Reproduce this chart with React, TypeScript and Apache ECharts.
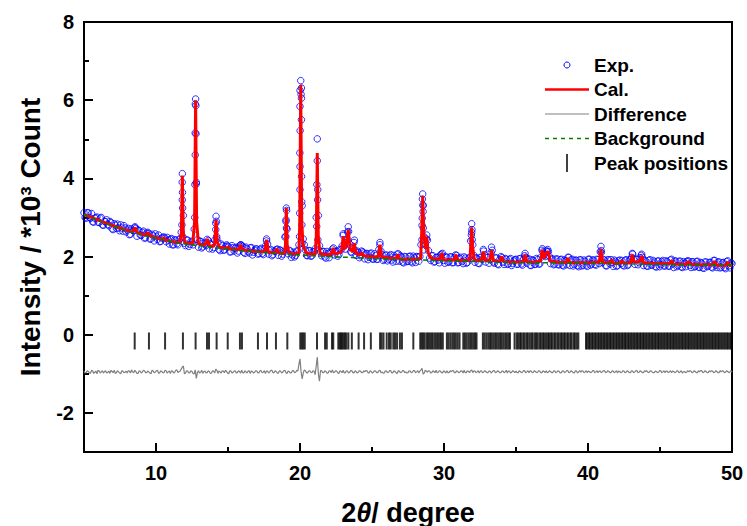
import React, { useEffect, useRef } from 'react';
import * as echarts from 'echarts';

const xTicks = [10, 20, 30, 40, 50];
const xMinorTicks = [15, 25, 35, 45];
const yTicks = [-2, 0, 2, 4, 6, 8];
const yMinorTicks = [-1, 1, 3, 5, 7];

// background (x, y)
const bgX = [5, 6, 7, 8, 9, 10, 11, 12, 13, 14, 15, 16, 17, 18, 19, 20, 22, 24, 26, 28, 30, 32, 34, 36, 38, 40, 42, 44, 46, 48, 50];
const bgY = [3.07, 2.92, 2.78, 2.66, 2.56, 2.47, 2.39, 2.32, 2.28, 2.23, 2.19, 2.15, 2.12, 2.09, 2.065, 2.04, 2.0, 1.97, 1.935, 1.915, 1.895, 1.875, 1.855, 1.845, 1.835, 1.825, 1.815, 1.805, 1.795, 1.785, 1.775];

// calculated profile, points
const calc = [
  [5.0, 3.07], [5.5, 3.0], [6.0, 2.93], [6.5, 2.86], [7.0, 2.79], [7.5, 2.73], [8.0, 2.67], [8.38, 2.63], [8.54, 2.74], [8.7, 2.61],
  [9.0, 2.57], [9.28, 2.55], [9.42, 2.62], [9.56, 2.54], [10.0, 2.48], [10.44, 2.44], [10.56, 2.48], [10.68, 2.42], [11.0, 2.4], [11.5, 2.36],
  [11.65, 2.36], [11.76, 2.6], [11.83, 4.07], [11.9, 2.6], [12.0, 2.35], [12.55, 2.33], [12.68, 2.9], [12.75, 6.0], [12.82, 2.9], [12.95, 2.32],
  [13.4, 2.29], [13.57, 2.45], [13.72, 2.27], [14.0, 2.26], [14.08, 2.36], [14.17, 2.94], [14.26, 2.36], [14.4, 2.24], [14.88, 2.21], [15.0, 2.25],
  [15.12, 2.2], [15.75, 2.18], [15.88, 2.3], [16.0, 2.17], [16.5, 2.15], [17.0, 2.13], [17.55, 2.12], [17.68, 2.43], [17.8, 2.11], [18.28, 2.1],
  [18.4, 2.2], [18.52, 2.09], [18.92, 2.08], [18.99, 2.3], [19.05, 3.24], [19.11, 2.3], [19.25, 2.07], [19.6, 2.07], [19.92, 2.08], [19.98, 2.8],
  [20.05, 6.39], [20.12, 2.9], [20.2, 2.35], [20.3, 2.2], [20.45, 2.08], [21.05, 2.06], [21.13, 2.5], [21.2, 4.65], [21.27, 2.5], [21.4, 2.07],
  [21.8, 2.05], [22.18, 2.06], [22.3, 2.22], [22.42, 2.07], [22.6, 2.08], [22.88, 2.12], [23.0, 2.52], [23.1, 2.2], [23.2, 2.25], [23.35, 2.69],
  [23.48, 2.2], [23.65, 2.12], [23.77, 2.34], [23.9, 2.08], [24.15, 2.04], [24.28, 2.1], [24.42, 2.02], [24.9, 2.0], [25.42, 1.99], [25.55, 2.3],
  [25.68, 1.98], [26.2, 1.96], [26.68, 1.95], [26.8, 2.05], [26.92, 1.94], [27.5, 1.93], [28.0, 1.93], [28.38, 1.95], [28.45, 2.6], [28.52, 3.55],
  [28.6, 2.6], [28.72, 2.2], [28.8, 2.5], [28.9, 2.1], [29.1, 1.95], [29.72, 1.93], [29.84, 2.09], [29.96, 1.92], [30.3, 1.91], [30.72, 1.91],
  [30.83, 2.05], [30.95, 1.9], [31.5, 1.9], [31.8, 1.92], [31.86, 2.3], [31.92, 2.75], [31.98, 2.3], [32.1, 1.91], [32.6, 1.9], [32.73, 2.13],
  [32.86, 1.9], [33.17, 1.9], [33.3, 2.16], [33.43, 1.89], [33.88, 1.88], [34.0, 2.0], [34.12, 1.87], [34.6, 1.86], [35.1, 1.86], [35.5, 1.86],
  [35.63, 2.05], [35.76, 1.86], [36.3, 1.86], [36.7, 1.88], [36.83, 2.17], [36.96, 1.95], [37.1, 2.1], [37.25, 2.13], [37.38, 1.88], [38.0, 1.85],
  [38.48, 1.85], [38.6, 1.96], [38.72, 1.84], [39.3, 1.84], [39.8, 1.84], [40.3, 1.85], [40.78, 1.86], [40.9, 2.19], [41.02, 1.85], [41.52, 1.84],
  [41.64, 1.92], [41.76, 1.83], [42.22, 1.83], [42.34, 1.9], [42.46, 1.83], [42.96, 1.84], [43.08, 2.05], [43.2, 1.86], [43.45, 1.86], [43.6, 1.88],
  [43.73, 2.02], [43.86, 1.84], [44.4, 1.83], [45.0, 1.82], [45.68, 1.82], [45.8, 1.9], [45.92, 1.81], [46.5, 1.8], [46.85, 1.8], [46.97, 1.88],
  [47.09, 1.8], [47.8, 1.79], [48.68, 1.79], [48.8, 1.88], [48.92, 1.78], [49.3, 1.78], [49.58, 1.78], [49.7, 1.86], [49.82, 1.77], [50.0, 1.77],
];

// observed points on a 0.15 degree grid starting at 5
const expStart = 5;
const expStep = 0.15;
const expY = [
  3.12, 2.98, 3.12, 2.98, 2.89, 2.98, 3.01, 2.87, 3.00, 2.80,
  2.89, 2.82, 2.90, 2.71, 2.84, 2.72, 2.73, 2.81, 2.65, 2.73,
  2.68, 2.56, 2.71, 2.66, 2.72, 2.68, 2.55, 2.62, 2.47, 2.60,
  2.59, 2.45, 2.53, 2.58, 2.44, 2.38, 2.47, 2.50, 2.38, 2.42,
  2.44, 2.30, 2.43, 2.33, 2.43, 2.62, 3.05, 2.28, 2.42, 2.31,
  2.37, 2.70, 3.90, 2.24, 2.39, 2.25, 2.32, 2.44, 2.20, 2.32,
  2.23, 2.85, 2.35, 2.15, 2.28, 2.17, 2.30, 2.25, 2.12, 2.23,
  2.21, 2.09, 2.27, 2.28, 2.11, 2.24, 2.12, 2.22, 2.04, 2.16,
  2.19, 2.08, 2.21, 2.05, 2.27, 2.32, 2.15, 2.02, 2.15, 2.18,
  2.03, 2.16, 2.06, 2.50, 2.70, 2.16, 1.98, 2.11, 2.03, 2.14,
  4.30, 3.30, 2.30, 2.03, 2.15, 2.01, 2.13, 2.20, 4.45, 2.28,
  2.02, 2.13, 1.96, 2.08, 2.11, 2.19, 2.04, 2.14, 2.05, 2.17,
  2.54, 2.19, 2.63, 2.32, 2.10, 2.36, 2.03, 2.10, 2.02, 2.12,
  1.94, 2.08, 1.98, 2.09, 1.93, 2.02, 1.93, 2.30, 2.05, 1.93,
  2.04, 1.93, 2.05, 1.86, 1.97, 2.06, 1.88, 1.99, 1.84, 1.99,
  1.88, 2.01, 1.84, 1.97, 2.00, 1.88, 2.30, 3.30, 2.30, 2.42,
  1.96, 2.02, 1.86, 1.98, 1.91, 2.04, 2.08, 1.83, 1.98, 1.87,
  1.99, 1.85, 2.04, 1.84, 1.95, 1.87, 1.99, 1.83, 1.95, 2.40,
  2.30, 1.85, 1.95, 1.82, 1.98, 2.14, 1.86, 1.98, 1.92, 2.16,
  1.83, 1.96, 1.79, 2.00, 1.86, 1.95, 1.80, 1.92, 1.77, 1.89,
  1.93, 1.81, 1.95, 1.78, 2.02, 1.83, 1.94, 1.77, 1.90, 1.80,
  1.92, 1.81, 2.16, 2.04, 2.15, 2.13, 1.82, 1.94, 1.81, 1.94,
  1.79, 1.93, 1.76, 1.89, 1.98, 1.77, 1.93, 1.80, 1.90, 1.74,
  1.91, 1.78, 1.88, 1.75, 1.93, 1.81, 1.91, 1.78, 1.92, 2.12,
  1.85, 1.91, 1.76, 1.91, 1.92, 1.75, 1.88, 1.77, 1.91, 1.90,
  1.76, 1.92, 1.79, 1.92, 2.06, 1.80, 1.93, 1.84, 2.03, 1.77,
  1.89, 1.75, 1.92, 1.78, 1.86, 1.73, 1.89, 1.79, 1.90, 1.76,
  1.87, 1.75, 1.93, 1.72, 1.88, 1.77, 1.88, 1.72, 1.83, 1.87,
  1.88, 1.72, 1.86, 1.75, 1.88, 1.72, 1.83, 1.70, 1.86, 1.76,
  1.85, 1.71, 1.90, 1.72, 1.86, 1.73, 1.85, 1.69, 1.89, 1.71,
  1.82,
];

// observed points on the interleaved grid starting at 5.075
const expStart2 = 5.075;
const expY2 = [
  3.00, 3.12, 3.00, 3.10, 2.88, 2.99, 2.88, 2.98, 2.81, 2.90,
  2.94, 2.79, 2.87, 2.69, 2.80, 2.83, 2.66, 2.73, 2.79, 2.63,
  2.72, 2.57, 2.67, 2.74, 2.52, 2.66, 2.54, 2.65, 2.48, 2.62,
  2.45, 2.57, 2.40, 2.51, 2.55, 2.39, 2.49, 2.47, 2.49, 2.32,
  2.46, 2.30, 2.42, 2.30, 2.46, 3.45, 2.34, 2.42, 2.26, 2.39,
  2.30, 4.60, 2.43, 2.39, 2.22, 2.35, 2.28, 2.41, 2.32, 2.19,
  2.42, 2.45, 2.18, 2.32, 2.16, 2.26, 2.27, 2.12, 2.28, 2.14,
  2.24, 2.14, 2.30, 2.26, 2.08, 2.20, 2.09, 2.23, 2.11, 2.20,
  2.06, 2.18, 2.08, 2.20, 2.40, 2.06, 2.18, 2.05, 2.13, 2.19,
  2.17, 2.01, 2.13, 2.90, 2.07, 2.14, 2.04, 1.99, 2.14, 2.30,
  6.15, 2.45, 2.17, 2.02, 2.15, 2.02, 2.12, 3.00, 3.05, 2.12,
  2.13, 1.99, 2.13, 1.97, 2.10, 2.22, 2.13, 2.01, 2.18, 2.27,
  2.27, 2.36, 2.64, 2.12, 2.21, 2.15, 2.14, 1.97, 2.14, 2.09,
  2.07, 1.92, 2.07, 1.94, 2.07, 1.93, 2.18, 2.14, 1.90, 2.03,
  1.89, 2.02, 1.91, 2.03, 1.88, 2.07, 2.02, 1.86, 2.00, 1.87,
  2.00, 1.87, 2.01, 1.85, 1.99, 2.00, 2.80, 2.50, 2.45, 2.15,
  1.90, 2.02, 1.87, 1.98, 1.84, 2.06, 1.90, 1.99, 1.85, 1.99,
  1.84, 1.98, 2.03, 1.85, 1.98, 1.82, 1.96, 1.85, 1.98, 2.62,
  2.03, 1.97, 1.83, 1.98, 1.93, 2.04, 1.97, 1.83, 2.10, 1.86,
  1.97, 1.81, 1.93, 1.97, 1.80, 1.93, 1.81, 1.95, 1.82, 1.92,
  1.80, 1.94, 1.81, 1.93, 1.98, 1.92, 1.78, 1.92, 1.80, 1.95,
  1.81, 1.98, 2.12, 2.00, 2.12, 2.00, 1.93, 1.79, 1.93, 1.79,
  1.92, 1.78, 1.91, 1.79, 1.98, 1.91, 1.76, 1.91, 1.77, 1.92,
  1.76, 1.91, 1.78, 1.93, 1.78, 1.91, 1.80, 1.93, 1.82, 2.10,
  1.92, 1.77, 1.92, 1.81, 1.85, 1.91, 1.75, 1.89, 1.82, 1.78,
  1.90, 1.77, 1.91, 1.98, 1.92, 1.93, 1.79, 1.97, 1.98, 1.89,
  1.76, 1.90, 1.78, 1.90, 1.75, 1.88, 1.74, 1.87, 1.76, 1.89,
  1.76, 1.91, 1.81, 1.89, 1.74, 1.88, 1.74, 1.87, 1.74, 1.89,
  1.77, 1.87, 1.73, 1.87, 1.73, 1.85, 1.71, 1.86, 1.74, 1.85,
  1.73, 1.90, 1.78, 1.86, 1.71, 1.84, 1.72, 1.87, 1.76, 1.84,
];

// extra observed points on the peak flanks (x, y)
const expPeaks = [
  [8.54, 2.76], [11.83, 4.12], [11.82, 3.9], [11.84, 3.64], [11.85, 3.24], [11.8, 2.81], [11.86, 2.51],
  [12.75, 6.03], [12.73, 5.9], [12.77, 5.86], [12.72, 5.16], [12.78, 5.14], [12.7, 3.84], [12.8, 3.86], [12.69, 3.0],
  [14.17, 3.03], [14.19, 2.9], [14.15, 2.69], [14.21, 2.51], [17.68, 2.45], [15.88, 2.3],
  [19.05, 3.24], [19.07, 3.18], [19.03, 2.94], [19.06, 2.73], [19.02, 2.51],
  [20.05, 6.5], [20.0, 6.25], [20.1, 6.31], [20.0, 5.84], [20.1, 6.05], [20.01, 5.22], [20.1, 5.5], [19.99, 4.65],
  [20.11, 4.05], [20.0, 3.71], [20.12, 3.4], [19.98, 3.11], [20.13, 2.81], [19.97, 2.51], [20.14, 2.34],
  [21.2, 5.01], [21.17, 3.84], [21.23, 3.71], [21.22, 3.45], [21.16, 2.77], [21.24, 2.43],
  [23.0, 2.58], [23.35, 2.76], [23.78, 2.42], [23.25, 2.45], [25.55, 2.36],
  [28.52, 3.6], [28.5, 3.47], [28.54, 3.32], [28.55, 3.15], [28.49, 2.98], [28.56, 2.73], [28.47, 2.43], [28.6, 2.17], [28.8, 2.55],
  [31.92, 2.84], [31.94, 2.69], [31.9, 2.55], [31.96, 2.43],
  [32.73, 2.18], [33.3, 2.24], [35.63, 2.08], [36.83, 2.2], [37.2, 2.18], [40.9, 2.26], [40.92, 2.15], [43.08, 2.08], [43.73, 2.06],
];

// difference curve (offset), on the same two grids
const diffY = [
  -0.93, -0.97, -0.94, -0.99, -0.92, -0.96, -1.0, -0.93, -0.95, -0.98,
  -0.92, -0.96, -0.99, -0.94, -0.91, -0.97, -0.95, -1.0, -0.93, -0.96,
  -0.98, -0.93, -0.9, -0.97, -0.94, -0.99, -0.93, -0.96, -0.92, -0.97,
  -0.95, -1.0, -0.93, -0.96, -0.91, -0.98, -0.94, -0.97, -0.92, -0.95,
  -0.99, -0.93, -0.96, -0.9, -0.94, -0.88, -0.8, -0.98, -0.93, -0.97,
  -0.94, -1.0, -1.12, -0.92, -0.96, -0.99, -0.93, -0.97, -0.94, -0.98,
  -0.93, -0.88, -0.99, -0.95, -0.92, -0.97, -0.94, -1.0, -0.93, -0.96,
  -0.92, -0.97, -0.94, -0.91, -0.98, -0.95, -0.93, -0.99, -0.94, -0.96,
  -0.93, -0.97, -0.92, -0.96, -0.99, -0.93, -0.95, -0.91, -0.97, -0.94,
  -0.98, -0.93, -0.96, -0.91, -0.99, -0.94, -0.97, -0.92, -0.96, -0.93,
  -0.62, -1.13, -0.9, -0.97, -0.93, -0.96, -0.92, -1.02, -0.57, -1.19,
  -0.92, -0.97, -0.94, -0.98, -0.93, -0.9, -0.96, -0.93, -0.99, -0.94,
  -0.91, -0.97, -0.93, -0.96, -0.92, -0.98, -0.94, -0.96, -0.93, -0.97,
  -0.95, -0.92, -0.98, -0.94, -0.96, -0.93, -0.97, -0.91, -0.95, -0.98,
  -0.93, -0.96, -0.92, -0.97, -0.94, -0.99, -0.93, -0.96, -0.92, -0.95,
  -0.97, -0.93, -0.96, -0.92, -0.95, -0.98, -0.9, -1.01, -0.91, -0.96,
  -0.93, -0.97, -0.94, -0.91, -0.96, -0.93, -0.98, -0.94, -0.92, -0.97,
  -0.95, -0.92, -0.97, -0.94, -0.96, -0.93, -0.91, -0.97, -0.94, -0.92,
  -0.97, -0.93, -0.95, -0.98, -0.92, -0.96, -0.94, -0.97, -0.93, -0.95,
  -0.92, -0.96, -0.94, -0.97, -0.93, -0.95, -0.98, -0.93, -0.96, -0.94,
  -0.93, -0.97, -0.94, -0.96, -0.92, -0.95, -0.97, -0.93, -0.96, -0.94,
  -0.96, -0.93, -0.97, -0.94, -0.92, -0.96, -0.94, -0.97, -0.93, -0.95,
  -0.94, -0.97, -0.93, -0.95, -0.92, -0.96, -0.94, -0.98, -0.93, -0.95,
  -0.96, -0.93, -0.95, -0.97, -0.94, -0.96, -0.92, -0.95, -0.97, -0.93,
  -0.95, -0.92, -0.96, -0.94, -0.97, -0.93, -0.95, -0.98, -0.94, -0.96,
  -0.93, -0.96, -0.94, -0.97, -0.93, -0.95, -0.92, -0.96, -0.94, -0.97,
  -0.94, -0.96, -0.93, -0.95, -0.97, -0.94, -0.96, -0.92, -0.95, -0.97,
  -0.93, -0.95, -0.97, -0.94, -0.96, -0.93, -0.95, -0.98, -0.94, -0.96,
  -0.95, -0.93, -0.96, -0.94, -0.97, -0.95, -0.92, -0.96, -0.94, -0.97,
  -0.95, -0.93, -0.96, -0.94, -0.97, -0.95, -0.93, -0.96, -0.94, -0.95,
  -0.96,
];
const diffY2 = [
  -0.98, -0.92, -0.97, -0.91, -0.99, -0.93, -0.91, -0.98, -0.92, -0.94,
  -0.98, -0.93, -0.91, -0.97, -0.99, -0.92, -0.98, -0.92, -0.97, -0.93,
  -0.92, -0.98, -0.95, -0.91, -0.99, -0.93, -0.98, -0.91, -0.97, -0.93,
  -0.98, -0.91, -0.97, -0.92, -0.98, -0.92, -0.97, -0.91, -0.98, -0.93,
  -0.92, -0.98, -0.91, -0.97, -0.93, -0.83, -1.0, -0.92, -0.98, -0.92,
  -0.99, -0.9, -0.97, -0.98, -0.91, -0.94, -0.98, -0.92, -0.99, -0.92,
  -0.98, -0.91, -0.93, -0.98, -0.93, -0.91, -0.98, -0.92, -0.98, -0.93,
  -0.98, -0.92, -0.98, -0.97, -0.92, -0.98, -0.92, -0.93, -0.98, -0.92,
  -0.98, -0.92, -0.97, -0.92, -0.93, -0.98, -0.91, -0.97, -0.92, -0.98,
  -0.92, -0.98, -0.92, -0.97, -0.93, -0.98, -0.92, -0.97, -0.91, -0.75,
  -0.95, -0.98, -0.92, -0.98, -0.92, -0.97, -0.93, -0.8, -1.0, -0.92,
  -0.97, -0.92, -0.98, -0.92, -0.97, -0.97, -0.92, -0.98, -0.92, -0.97,
  -0.98, -0.92, -0.98, -0.92, -0.97, -0.92, -0.98, -0.92, -0.97, -0.92,
  -0.92, -0.97, -0.92, -0.98, -0.92, -0.97, -0.92, -0.97, -0.98, -0.92,
  -0.97, -0.92, -0.98, -0.92, -0.97, -0.92, -0.97, -0.92, -0.97, -0.98,
  -0.92, -0.97, -0.92, -0.97, -0.92, -0.93, -0.86, -0.98, -0.93, -0.92,
  -0.98, -0.92, -0.97, -0.97, -0.92, -0.97, -0.92, -0.98, -0.97, -0.92,
  -0.92, -0.97, -0.92, -0.97, -0.92, -0.98, -0.97, -0.92, -0.97, -0.9,
  -0.92, -0.97, -0.92, -0.93, -0.97, -0.92, -0.97, -0.93, -0.98, -0.92,
  -0.97, -0.92, -0.97, -0.93, -0.97, -0.91, -0.93, -0.98, -0.92, -0.97,
  -0.97, -0.92, -0.97, -0.92, -0.97, -0.92, -0.92, -0.97, -0.92, -0.97,
  -0.92, -0.97, -0.92, -0.97, -0.97, -0.92, -0.97, -0.92, -0.97, -0.92,
  -0.98, -0.92, -0.97, -0.92, -0.97, -0.92, -0.97, -0.92, -0.98, -0.92,
  -0.92, -0.97, -0.92, -0.93, -0.97, -0.92, -0.97, -0.92, -0.93, -0.97,
  -0.92, -0.97, -0.92, -0.97, -0.92, -0.97, -0.92, -0.93, -0.97, -0.92,
  -0.97, -0.92, -0.97, -0.92, -0.97, -0.92, -0.97, -0.92, -0.97, -0.92,
  -0.92, -0.97, -0.92, -0.97, -0.93, -0.97, -0.92, -0.97, -0.92, -0.93,
  -0.97, -0.92, -0.93, -0.97, -0.92, -0.97, -0.92, -0.95, -0.97, -0.92,
  -0.92, -0.97, -0.92, -0.97, -0.92, -0.92, -0.97, -0.92, -0.97, -0.92,
  -0.92, -0.97, -0.92, -0.97, -0.92, -0.92, -0.97, -0.92, -0.97, -0.92,
];

// Bragg peak positions
const peakPos = [
  8.52, 9.51, 10.63, 11.87, 12.75, 13.54, 13.68, 14.21, 14.98, 15.83, 15.97, 17.08, 17.71, 18.33, 19.12,
  20.02, 20.12, 20.22, 20.33, 21.18, 21.74, 21.86, 22.22, 22.31, 22.66, 22.76, 22.84, 22.93, 23.02, 23.12,
  23.22, 23.36, 23.6, 24.07, 24.45, 24.92, 25.56, 25.67, 25.8, 26.02, 26.18, 26.3, 26.48, 26.6, 26.74,
  26.94, 27.08, 27.87, 28.35, 28.45, 28.55, 28.66, 28.8, 28.9, 29.01, 29.12, 29.22, 29.35, 29.46, 29.58,
  29.7, 29.8, 29.92, 30.2, 30.32, 30.45, 30.58, 30.7, 30.82, 30.95, 31.08, 31.34, 31.45, 31.57, 31.7,
  31.82, 31.93, 32.05, 32.16, 32.26, 32.7, 32.82, 32.95, 33.08, 33.2, 33.3, 33.42, 33.55, 33.66, 33.78,
  33.9, 34.0, 34.12, 34.25, 34.36, 34.48, 34.58, 34.9,
  35.05, 35.15, 35.28, 35.37, 35.5, 35.6, 35.73, 35.82, 35.95, 36.07, 36.16, 36.3, 36.4, 36.5, 36.63,
  36.73, 36.86, 36.95, 37.08, 37.2, 37.29, 37.42, 37.51, 37.65, 37.74, 37.87, 37.97, 38.1, 38.19, 38.32,
  38.41, 38.55, 38.64, 38.77, 38.86, 39.0, 39.09, 39.22, 39.33,
  39.86, 39.95, 40.07, 40.16, 40.28, 40.37, 40.49, 40.58, 40.7, 40.79, 40.9, 41.0, 41.11, 41.21, 41.32,
  41.42, 41.53, 41.62, 41.74, 41.83, 41.95, 42.04, 42.15, 42.25, 42.36, 42.46, 42.57, 42.66, 42.78, 42.87,
  42.98, 43.08, 43.19, 43.29, 43.4, 43.49, 43.61, 43.7, 43.82, 43.91, 44.02, 44.12, 44.23, 44.33, 44.44,
  44.53, 44.65, 44.74, 44.86, 44.95, 45.06, 45.16, 45.27, 45.37, 45.48, 45.57, 45.69, 45.78, 45.9, 45.99,
  46.1, 46.2, 46.31, 46.41, 46.52, 46.61, 46.73, 46.82, 46.94, 47.03, 47.14, 47.24, 47.35, 47.45, 47.56,
  47.65, 47.77, 47.86, 47.98, 48.07, 48.18, 48.28, 48.39, 48.49, 48.6, 48.69, 48.81, 48.9, 49.02, 49.11,
  49.22, 49.32, 49.43, 49.53, 49.64, 49.73, 49.85, 49.94,
];
const peakTickLevel = -0.16;

const legendNames = ['Exp.', 'Cal.', 'Difference', 'Background', 'Peak positions'];

const FONT = '"Liberation Sans", Arial, Helvetica, sans-serif';

export default function App() {
  const ref = useRef<HTMLDivElement>(null);

  useEffect(() => {
    document.body.style.margin = '0';
    const chart = echarts.init(ref.current!, null, { renderer: 'svg' });

    const expData = expY.map((y, i) => [expStart + i * expStep, y])
      .concat(expY2.map((y, i) => [expStart2 + i * expStep, y]))
      .concat(expPeaks);
    const diffData = diffY.map((y, i) => [expStart + i * expStep, y])
      .concat(diffY2.map((y, i) => [expStart2 + i * expStep, y]))
      .sort((a, b) => a[0] - b[0]);
    const bgData = bgX.map((x, i) => [x, bgY[i]]);
    const tickData = peakPos.map((x) => [x, peakTickLevel]);

    const lx0 = 545, lx1 = 589, lcx = 567, ltx = 594, ly0 = 65, ldy = 24.5;
    const legendGraphics: any[] = [
      { type: 'circle', shape: { cx: lcx, cy: ly0, r: 3 }, style: { fill: 'rgba(0,0,0,0)', stroke: '#0000ff', lineWidth: 1 } },
      { type: 'line', shape: { x1: lx0, y1: ly0 + ldy, x2: lx1, y2: ly0 + ldy }, style: { stroke: '#ff0000', lineWidth: 2.5 } },
      { type: 'line', shape: { x1: lx0, y1: ly0 + 2 * ldy, x2: lx1, y2: ly0 + 2 * ldy }, style: { stroke: '#808080', lineWidth: 1 } },
      { type: 'line', shape: { x1: lx0, y1: ly0 + 3 * ldy, x2: lx1, y2: ly0 + 3 * ldy }, style: { stroke: '#008000', lineWidth: 1.5, lineDash: [4, 4] } },
      { type: 'line', shape: { x1: lcx, y1: ly0 + 4 * ldy - 9, x2: lcx, y2: ly0 + 4 * ldy + 9 }, style: { stroke: '#000', lineWidth: 1.5 } },
    ];
    legendNames.forEach((name, i) => {
      legendGraphics.push({
        type: 'text',
        x: ltx,
        y: ly0 + i * ldy,
        style: { text: name, fontSize: 19, fontWeight: 'bold', fontFamily: FONT, fill: '#000', verticalAlign: 'middle', align: 'left' },
      });
    });

    const labelStyle = { fontSize: 20, fontWeight: 'bold', fontFamily: FONT, color: '#000' };

    const option: any = {
      animation: false,
      backgroundColor: '#fff',
      grid: {
        left: 84, right: 15, top: 22, bottom: 74, containLabel: false, outerBoundsMode: 'none',
        show: true, borderColor: '#000', borderWidth: 2, backgroundColor: 'rgba(0,0,0,0)',
      },
      xAxis: [
        {
          type: 'value', min: 5, max: 50, position: 'bottom',
          name: '2{i|θ}/ degree', nameLocation: 'middle', nameGap: 47,
          nameTextStyle: {
            fontSize: 27, fontWeight: 'bold', fontFamily: FONT, color: '#000',
            rich: { i: { fontSize: 27, fontWeight: 'bold', fontStyle: 'italic', fontFamily: FONT, color: '#000' } },
          },
          axisLine: { show: true, onZero: false, lineStyle: { color: '#000', width: 2 } },
          axisTick: { show: true, inside: true, length: 9, lineStyle: { color: '#000', width: 2 }, customValues: xTicks },
          axisLabel: { ...labelStyle, margin: 11, customValues: xTicks },
          splitLine: { show: false },
        },
        {
          type: 'value', min: 5, max: 50, position: 'bottom',
          axisLine: { show: false, onZero: false },
          axisTick: { show: true, inside: true, length: 5, lineStyle: { color: '#000', width: 2 }, customValues: xMinorTicks },
          axisLabel: { show: false },
          splitLine: { show: false },
        },
      ],
      yAxis: [
        {
          type: 'value', min: -3, max: 8, position: 'left',
          name: 'Intensity / *10³ Count', nameLocation: 'middle', nameGap: 40, nameRotate: 90,
          nameTextStyle: { fontSize: 28, fontWeight: 'bold', fontFamily: FONT, color: '#000' },
          axisLine: { show: true, onZero: false, lineStyle: { color: '#000', width: 2 } },
          axisTick: { show: true, inside: true, length: 9, lineStyle: { color: '#000', width: 2 }, customValues: yTicks },
          axisLabel: { ...labelStyle, margin: 10, customValues: yTicks },
          splitLine: { show: false },
        },
        {
          type: 'value', min: -3, max: 8, position: 'left',
          axisLine: { show: false, onZero: false },
          axisTick: { show: true, inside: true, length: 5, lineStyle: { color: '#000', width: 2 }, customValues: yMinorTicks },
          axisLabel: { show: false },
          splitLine: { show: false },
        },
      ],
      series: [
        {
          name: 'Exp.', type: 'scatter', data: expData, symbol: 'circle', symbolSize: 6.5, z: 2,
          itemStyle: { color: 'rgba(255,255,255,0)', borderColor: '#0000ff', borderWidth: 1 },
          silent: true,
        },
        {
          name: 'Difference', type: 'line', data: diffData, symbol: 'none', z: 2,
          lineStyle: { color: '#808080', width: 1.2 }, silent: true,
        },
        {
          name: 'Peak positions', type: 'scatter', data: tickData, symbol: 'rect', symbolSize: [2, 17], z: 2,
          itemStyle: { color: '#000' }, silent: true,
        },
        {
          name: 'Cal.', type: 'line', data: calc, symbol: 'none', z: 3,
          lineStyle: { color: '#ff0000', width: 3 }, silent: true,
        },
        {
          name: 'Background', type: 'line', data: bgData, symbol: 'none', smooth: true, z: 4,
          lineStyle: { color: '#008000', width: 1.5, type: [5, 3] }, silent: true,
        },
      ],
      graphic: legendGraphics,
    };

    chart.setOption(option);
    return () => chart.dispose();
  }, []);

  return <div ref={ref} style={{ position: 'absolute', left: 0, top: 0, width: 747, height: 526 }} />;
}
